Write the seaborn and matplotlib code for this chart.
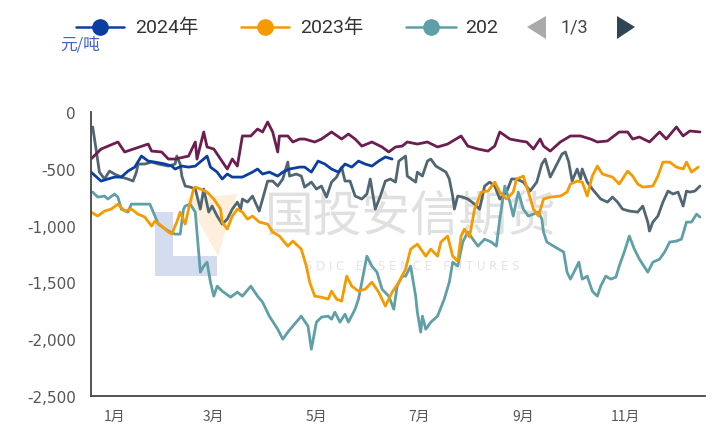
import numpy as np
import pandas as pd
import matplotlib
matplotlib.use('Agg')
import matplotlib.pyplot as plt
import seaborn as sns
from matplotlib.lines import Line2D
from matplotlib.patches import Polygon
from matplotlib.ticker import FuncFormatter


# ─────────────────────────────────────────────
# DATA  (day of year, spread in 元/吨)
# ─────────────────────────────────────────────

days_2024 = [0, 6, 10, 14, 18, 22, 26, 30, 34, 38, 44, 48, 50, 54, 58, 62, 67, 69, 71, 75,
             78, 81, 84, 90, 96, 99, 102, 106, 111, 114, 118, 124, 127, 131, 135, 139, 143,
             147, 151, 155, 159, 163, 167, 171, 175, 179]
vals_2024 = [-529, -608, -590, -573, -573, -520, -485, -388, -432, -441, -458, -476, -502, -476,
             -485, -476, -414, -388, -485, -529, -590, -546, -573, -573, -529, -502, -546, -529,
             -564, -529, -502, -485, -485, -529, -432, -458, -502, -529, -458, -485, -432, -458,
             -476, -432, -396, -414]

days_2023 = [0, 4, 8, 12, 16, 20, 24, 28, 32, 36, 38, 42, 46, 48, 51, 53, 56, 58, 61, 62, 65,
             69, 73, 77, 78, 81, 84, 87, 90, 93, 96, 100, 105, 108, 112, 117, 120, 125, 128, 130,
             133, 137, 141, 143, 146, 149, 152, 155, 159, 163, 167, 171, 175, 179, 183, 187, 190,
             194, 199, 202, 206, 208, 212, 215, 218, 220, 222, 225, 228, 232, 236, 240, 243, 247,
             251, 253, 257, 260, 263, 266, 269, 273, 279, 283, 285, 289, 292, 295, 298, 301, 304,
             310, 314, 319, 322, 325, 328, 334, 337, 340, 344, 348, 352, 354, 357, 361]
vals_2023 = [-881, -916, -872, -855, -811, -872, -855, -899, -925, -1004, -960, -1004, -1057,
             -1075, -969, -881, -987, -855, -678, -661, -678, -705, -766, -855, -969, -1031, -916,
             -855, -881, -943, -916, -969, -987, -1057, -1092, -1181, -1136, -1207, -1357, -1498,
             -1621, -1630, -1647, -1577, -1647, -1665, -1445, -1533, -1577, -1559, -1498, -1586,
             -1709, -1586, -1498, -1383, -1207, -1163, -1269, -1207, -1269, -1145, -1092, -1269,
             -1313, -1092, -1031, -1101, -855, -705, -696, -617, -705, -766, -705, -590, -564,
             -705, -855, -916, -766, -749, -740, -705, -634, -608, -617, -740, -564, -476, -546,
             -573, -634, -520, -564, -634, -661, -652, -564, -441, -441, -485, -502, -441, -529,
             -485]

days_2022 = [1, 4, 8, 10, 14, 16, 18, 22, 24, 30, 35, 38, 40, 46, 50, 53, 55, 56, 59, 62, 63,
             65, 67, 69, 71, 73, 75, 78, 83, 87, 90, 95, 99, 102, 106, 111, 114, 117, 120, 125,
             129, 131, 134, 137, 141, 143, 145, 148, 151, 153, 157, 159, 161, 164, 167, 170, 173,
             177, 180, 182, 185, 187, 190, 193, 194, 196, 197, 199, 202, 206, 210, 213, 215, 218,
             221, 224, 227, 230, 234, 238, 241, 243, 246, 249, 251, 254, 257, 260, 263, 266, 268,
             269, 271, 275, 281, 283, 285, 288, 290, 292, 295, 298, 301, 303, 306, 309, 312, 314,
             317, 320, 323, 326, 331, 334, 338, 341, 344, 348, 351, 354, 357, 360, 362]
vals_2022 = [-705, -749, -740, -766, -722, -749, -855, -881, -811, -811, -811, -916, -987, -1048,
             -1075, -1075, -855, -828, -811, -881, -1057, -1410, -1357, -1322, -1498, -1621, -1533,
             -1577, -1630, -1586, -1621, -1533, -1621, -1674, -1797, -1912, -2000, -1938, -1885,
             -1797, -1885, -2088, -1850, -1806, -1797, -1824, -1762, -1850, -1780, -1850, -1736,
             -1647, -1498, -1269, -1357, -1410, -1559, -1621, -1736, -1533, -1445, -1445, -1357,
             -1621, -1762, -1938, -1797, -1912, -1850, -1797, -1647, -1498, -1322, -1357, -1145,
             -1057, -1119, -1181, -1119, -1145, -1181, -943, -652, -793, -916, -705, -855, -916,
             -899, -881, -943, -1057, -1145, -1181, -1233, -1410, -1471, -1383, -1322, -1471,
             -1445, -1577, -1621, -1533, -1445, -1471, -1454, -1357, -1233, -1092, -1207, -1295,
             -1410, -1322, -1295, -1233, -1145, -1136, -1119, -969, -969, -899, -925]

days_2021 = [0, 6, 16, 20, 34, 36, 42, 46, 50, 58, 62, 63, 67, 69, 73, 77, 81, 84, 87, 90, 95,
             99, 102, 105, 108, 111, 112, 117, 120, 124, 127, 133, 137, 143, 149, 153, 157, 161,
             167, 173, 177, 181, 185, 188, 194, 200, 206, 212, 220, 224, 230, 236, 240, 243, 249,
             255, 259, 263, 267, 269, 273, 279, 285, 291, 297, 301, 307, 314, 319, 322, 326, 332,
             338, 342, 348, 352, 356, 362]
vals_2021 = [-414, -326, -264, -352, -282, -344, -352, -414, -414, -388, -264, -414, -176, -308,
             -326, -414, -502, -414, -476, -211, -211, -150, -176, -88, -176, -352, -211, -211,
             -264, -238, -238, -264, -238, -176, -238, -194, -238, -300, -264, -308, -352, -308,
             -300, -264, -282, -264, -308, -282, -211, -300, -326, -344, -300, -176, -238, -255,
             -264, -326, -238, -300, -344, -264, -211, -211, -238, -264, -255, -176, -176, -238,
             -220, -264, -176, -238, -132, -211, -167, -176]

days_2020 = [1, 3, 5, 8, 11, 14, 18, 22, 25, 27, 28, 32, 36, 40, 46, 50, 51, 53, 54, 56, 59, 62,
             65, 67, 70, 72, 75, 78, 81, 84, 87, 89, 90, 93, 96, 100, 105, 108, 111, 114, 117,
             118, 122, 125, 127, 131, 134, 137, 140, 143, 146, 149, 151, 154, 157, 161, 164, 166,
             169, 172, 175, 178, 181, 183, 187, 188, 193, 194, 197, 200, 202, 205, 208, 211, 213,
             215, 216, 218, 221, 224, 228, 231, 234, 237, 240, 243, 247, 250, 253, 257, 261, 265,
             268, 270, 273, 277, 280, 282, 284, 286, 289, 291, 292, 295, 298, 303, 307, 310, 313,
             316, 320, 325, 328, 331, 332, 334, 337, 340, 343, 346, 349, 352, 354, 356, 359, 362]
vals_2020 = [-132, -326, -529, -590, -520, -546, -573, -590, -608, -529, -458, -458, -441, -458,
             -476, -458, -388, -458, -564, -652, -661, -678, -855, -678, -881, -828, -916, -987,
             -943, -855, -793, -855, -766, -793, -740, -872, -608, -608, -652, -590, -441, -564,
             -546, -564, -661, -617, -678, -652, -749, -617, -573, -485, -608, -608, -740, -766,
             -722, -590, -855, -740, -608, -590, -617, -432, -388, -564, -617, -529, -564, -432,
             -414, -476, -502, -529, -590, -740, -855, -740, -749, -766, -811, -855, -652, -617,
             -652, -766, -705, -590, -590, -617, -696, -617, -458, -414, -573, -458, -370, -352,
             -441, -608, -502, -590, -502, -617, -678, -766, -793, -749, -793, -855, -872, -881,
             -828, -969, -1048, -969, -916, -793, -696, -722, -705, -828, -696, -705, -696, -652]

years = ['2020年', '2021年', '2022年', '2023年', '2024年']
colors = ['#506672', '#6d1d4f', '#5f9fa8', '#f59b00', '#0b3f9f']

month_ticks = [0, 59, 120, 181, 243, 304, 365]
label_pos = [14, 73, 134, 195, 257, 318]
month_labels = ['1月', '3月', '5月', '7月', '9月', '11月']
y_ticks = [0, -500, -1000, -1500, -2000, -2500]


# ─────────────────────────────────────────────
# BUILD LONG TABLE
# ─────────────────────────────────────────────

frames = []
for yr, d, v in [('2020年', days_2020, vals_2020), ('2021年', days_2021, vals_2021),
                 ('2022年', days_2022, vals_2022), ('2023年', days_2023, vals_2023),
                 ('2024年', days_2024, vals_2024)]:
    frames.append(pd.DataFrame({'day': d, 'value': v, 'year': yr}))
df = pd.concat(frames, ignore_index=True)


# ─────────────────────────────────────────────
# PLOT
# ─────────────────────────────────────────────

sns.set_theme(style='white')
plt.rcParams['font.family'] = ['DejaVu Sans', 'Noto Sans CJK SC']
plt.rcParams['axes.unicode_minus'] = False

W, H = 717, 435
fig = plt.figure(figsize=(W / 100, H / 100), dpi=100)
ax = fig.add_axes([91 / W, 1 - 397 / H, 614 / W, 284 / H])


def fx(x):
    return x / W


def fy(y):
    return 1 - y / H


# watermark (logo + text), under the lines
ax.add_patch(Polygon([(fx(155), fy(213)), (fx(173), fy(213)), (fx(173), fy(257)), (fx(217), fy(257)),
                      (fx(217), fy(277)), (fx(155), fy(277))], closed=True,
                     transform=fig.transFigure, facecolor='#d5dcef', edgecolor='none', zorder=0.5))
ax.add_patch(Polygon([(fx(186), fy(200)), (fx(237), fy(195)), (fx(218), fy(257))], closed=True,
                     transform=fig.transFigure, facecolor='#fcefdc', edgecolor='none', zorder=0.5))
ax.text(fx(411), fy(217), '国投安信期货', transform=fig.transFigure, ha='center', va='center',
        fontsize=35, color='#e0e0e0', family=['Noto Sans CJK SC'], zorder=0.6)
ax.text(fx(412), fy(267), 'S D I C   E S S E N C E   F U T U R E S', transform=fig.transFigure,
        ha='center', va='center', fontsize=8.5, color='#e4e4e4', zorder=0.6)

sns.lineplot(data=df, x='day', y='value', hue='year', hue_order=years,
             palette=dict(zip(years, colors)), linewidth=2.0, legend=False, ax=ax,
             estimator=None, sort=False)

ax.set_xlim(0, 365)
ax.set_ylim(-2500, 0)
ax.set_xlabel('')
ax.set_ylabel('')

ax.set_xticks(month_ticks)
ax.set_xticklabels([''] * len(month_ticks))
ax.set_xticks(label_pos, minor=True)
ax.set_xticklabels(month_labels, minor=True, family=['Noto Sans CJK SC'])
ax.tick_params(axis='x', which='major', length=5, width=1.1, color='#444444', direction='out')
ax.tick_params(axis='x', which='minor', length=0, pad=9, labelsize=10, labelcolor='#555555')

ax.set_yticks(y_ticks)
ax.yaxis.set_major_formatter(FuncFormatter(lambda v, p: f'{v:,.0f}'))
ax.tick_params(axis='y', length=5, width=1.1, color='#444444', direction='out', pad=6,
               labelsize=11, labelcolor='#555555')

for s in ['top', 'right']:
    ax.spines[s].set_visible(False)
for s in ['left', 'bottom']:
    ax.spines[s].set_color('#444444')
    ax.spines[s].set_linewidth(1.3)

# unit label
fig.text(fx(60), fy(45), '元/吨', ha='left', va='center', fontsize=12, color='#3f63c9',
         family=['Noto Sans CJK SC'])

# legend row (first page of three)
ly = fy(28)
for (x0, x1, xc, tx, label, c) in [(76, 124, 100, 135, '2024年', colors[4]),
                                   (241, 289, 265, 300, '2023年', colors[3]),
                                   (406, 456, 431, 465, '202', colors[2])]:
    fig.add_artist(Line2D([fx(x0), fx(x1)], [ly, ly], transform=fig.transFigure, color=c, lw=1.8))
    fig.add_artist(Line2D([fx(xc)], [ly], transform=fig.transFigure, marker='o', markersize=11,
                          color=c, lw=0))
    fig.text(fx(tx), ly, label, ha='left', va='center', fontsize=14, color='#333333',
             family=['Roboto', 'Noto Sans CJK SC'])

fig.add_artist(Polygon([(fx(527), fy(28)), (fx(546), fy(17)), (fx(546), fy(40))], closed=True,
                       transform=fig.transFigure, facecolor='#aaaaaa', edgecolor='none'))
fig.text(fx(561), ly, '1/3', ha='left', va='center', fontsize=13, color='#444444', family=['Roboto'])
fig.add_artist(Polygon([(fx(635), fy(28)), (fx(617), fy(17)), (fx(617), fy(40))], closed=True,
                       transform=fig.transFigure, facecolor='#2f4554', edgecolor='none'))

fig.savefig('out.png', dpi=100)
